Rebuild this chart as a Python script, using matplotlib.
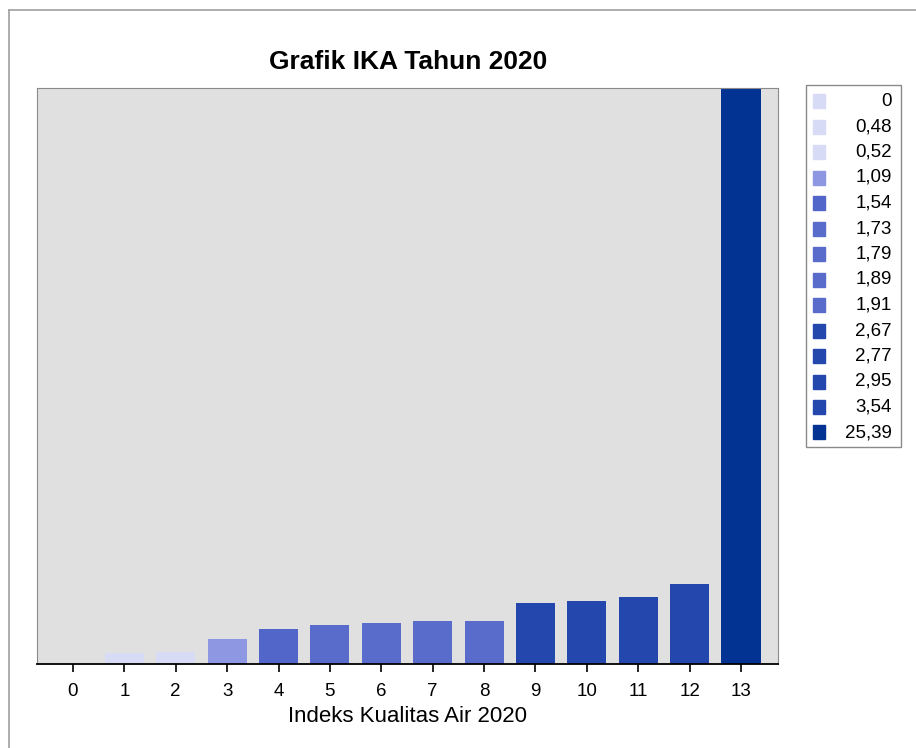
import matplotlib.pyplot as plt
from matplotlib.patches import Rectangle
from matplotlib.lines import Line2D

plt.rcParams['font.family'] = ['Liberation Sans', 'DejaVu Sans']

categories = list(range(14))
values = [0, 0.48, 0.52, 1.09, 1.54, 1.73, 1.79, 1.89, 1.91, 2.67, 2.77, 2.95, 3.54, 25.39]
labels = ['0', '0,48', '0,52', '1,09', '1,54', '1,73', '1,79', '1,89', '1,91',
          '2,67', '2,77', '2,95', '3,54', '25,39']
colors = ['#d8dbf6', '#d8dbf6', '#d8dbf6', '#8e97e2', '#5166c8', '#5a6ccb', '#5a6ccb',
          '#5a6ccb', '#5a6ccb', '#2447ae', '#2447ae', '#2447ae', '#2447ae', '#023392']

W, H = 916, 748
fig = plt.figure(figsize=(W / 100, H / 100), dpi=100)

# outer frame (left and top only)
fig.add_artist(Line2D([9 / W, 9 / W], [0, 1 - 10 / H], color='#a0a0a0', lw=1.2))
fig.add_artist(Line2D([9 / W, 1], [1 - 10 / H, 1 - 10 / H], color='#a0a0a0', lw=1.2))

ax = fig.add_axes([37 / W, 1 - 664 / H, (778 - 37) / W, (664 - 88) / H])
ax.set_facecolor('#e0e0e0')
ax.bar(categories, values, width=0.76, color=colors)
ax.set_xlim(-0.7, 13.72)
ax.set_ylim(0, max(values))
ax.set_yticks([])
ax.set_xticks(categories)
ax.tick_params(axis='x', length=6, width=1.2, labelsize=13.5, pad=8)
for s in ['left', 'top', 'right']:
    ax.spines[s].set_color('#8a8a8a')
ax.spines['bottom'].set_color('black')
ax.spines['bottom'].set_linewidth(1.3)
ax.set_xlabel('Indeks Kualitas Air 2020', fontsize=16, labelpad=4)
fig.text(408 / W, 1 - 62 / H, 'Grafik IKA Tahun 2020', ha='center', va='center',
         fontsize=19, fontweight='bold')

# legend box
lx0, lx1, ly0, ly1 = 806, 901, 85, 447
fig.add_artist(Rectangle((lx0 / W, 1 - ly1 / H), (lx1 - lx0) / W, (ly1 - ly0) / H,
                         transform=fig.transFigure, fill=False, edgecolor='#8a8a8a', lw=1))
for i, (lab, c) in enumerate(zip(labels, colors)):
    y = 101 + i * 25.5
    fig.add_artist(Rectangle((813 / W, 1 - (y + 7) / H), 12 / W, 14 / H,
                             transform=fig.transFigure, color=c))
    fig.text(892 / W, 1 - y / H, lab, ha='right', va='center', fontsize=13.5)

fig.savefig('out.png', dpi=100)
